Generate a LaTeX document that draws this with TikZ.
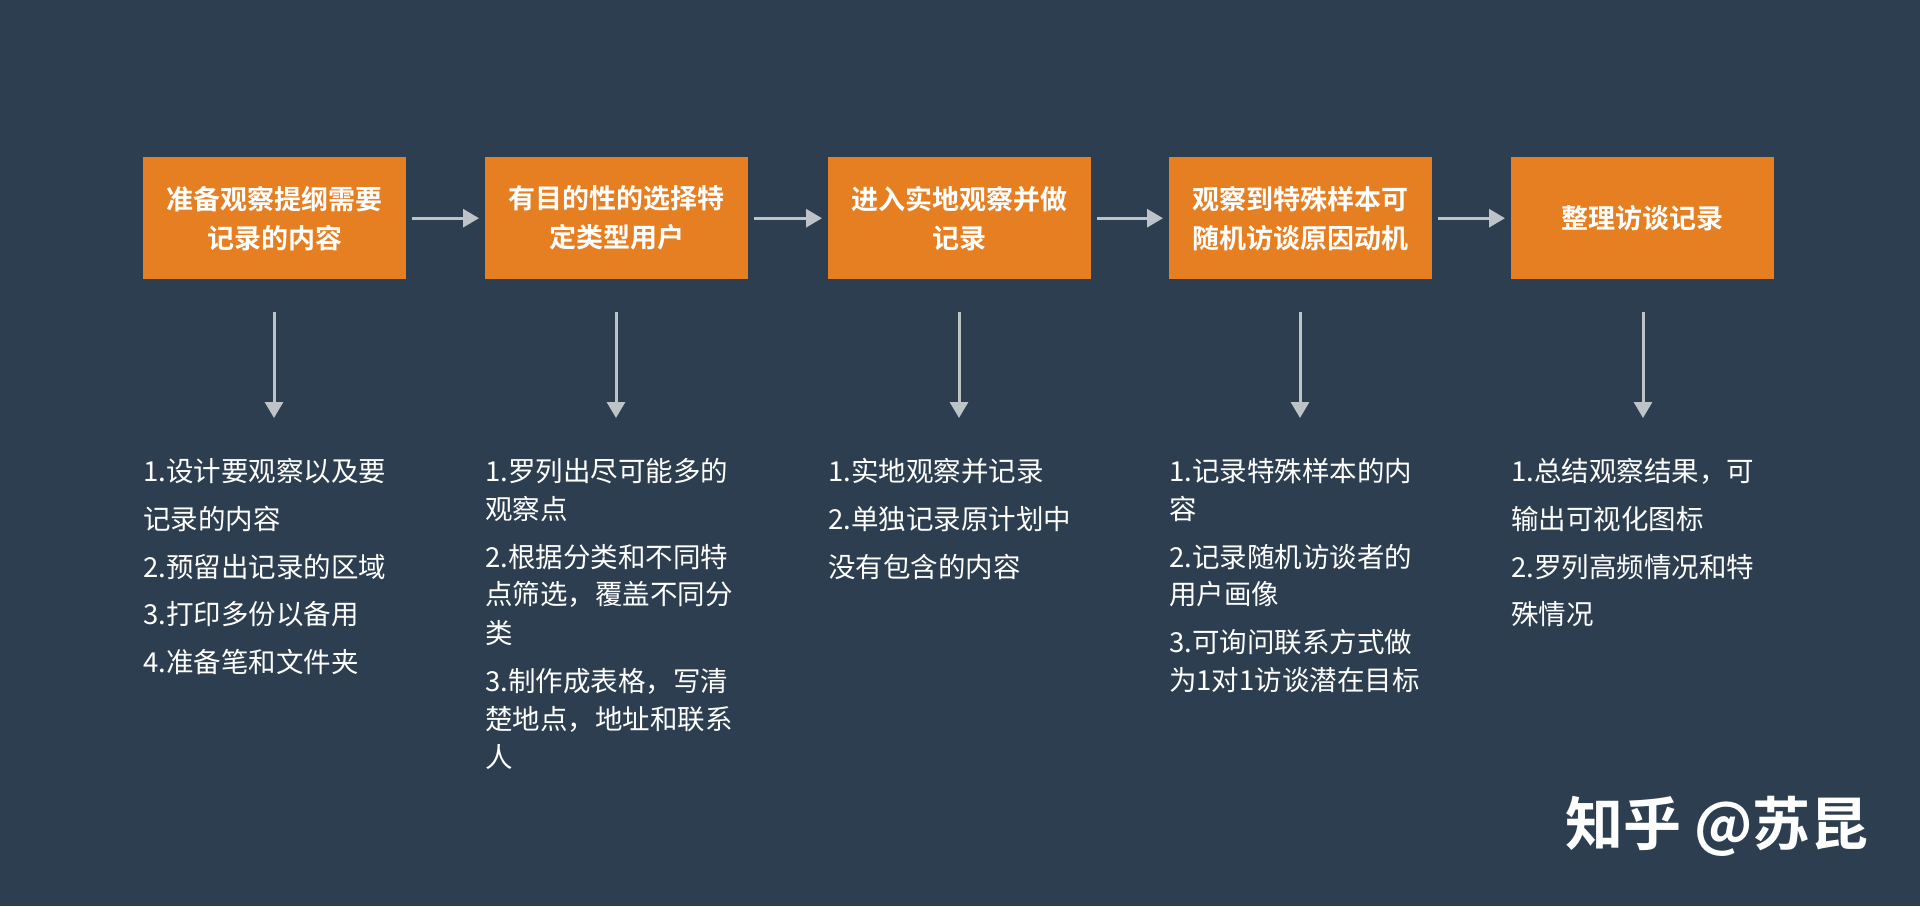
\documentclass[tikz,border=0pt]{standalone}
\usepackage{fontspec}
\setmainfont{Noto Sans CJK SC}
\newfontfamily\cjkb{Noto Sans CJK SC Bold}
\usetikzlibrary{arrows.meta}
\definecolor{bg}{HTML}{2D3E50}
\definecolor{org}{HTML}{E67E22}
\definecolor{arr}{HTML}{BDC3C7}
\tikzset{
 box/.style={fill=org,minimum width=263pt,minimum height=122pt,anchor=north west,text=white,align=center,font=\cjkb\fontsize{27}{39}\selectfont},
 list/.style={anchor=north west,text=white,align=left,font=\fontsize{27.5}{47.8}\selectfont,inner sep=0pt},
 conn/.style={draw=arr,line width=3pt,-{Triangle[length=16pt,width=18pt]}}
}
\begin{document}
\begin{tikzpicture}[x=1pt,y=-1pt]
\fill[bg] (0,0) rectangle (1920,906);
\useasboundingbox (0,0) rectangle (1920,906);
\node[box] (b1) at (143,157) {准备观察提纲需要\\记录的内容};
\node[box] (b2) at (485,157) {有目的性的选择特\\定类型用户};
\node[box] (b3) at (828,157) {进入实地观察并做\\记录};
\node[box] (b4) at (1169,157) {观察到特殊样本可\\随机访谈原因动机};
\node[box] (b5) at (1511,157) {整理访谈记录};
\foreach \a/\b in {b1/b2,b2/b3,b3/b4,b4/b5}{\draw[conn] ([xshift=6pt]\a.east) -- ([xshift=-6pt]\b.west);}
\foreach \i/\x in {1/274,2/616,3/959,4/1300,5/1643}{
 \coordinate (s\i) at (\x,312);
 \coordinate (e\i) at (\x,418);
 \draw[conn] (s\i) -- (e\i);}
\node[list] (l1) at (143,458) {1.设计要观察以及要\\记录的内容\\2.预留出记录的区域\\3.打印多份以备用\\4.准备笔和文件夹};
\node[list] (l2) at (485,458) {1.罗列出尽可能多的\\[-10pt]观察点\\2.根据分类和不同特\\[-10pt]点筛选，覆盖不同分\\[-9pt]类\\3.制作成表格，写清\\[-10pt]楚地点，地址和联系\\[-10pt]人};
\node[list] (l3) at (828,458) {1.实地观察并记录\\2.单独记录原计划中\\没有包含的内容};
\node[list] (l4) at (1169,458) {1.记录特殊样本的内\\[-10pt]容\\2.记录随机访谈者的\\[-10pt]用户画像\\3.可询问联系方式做\\[-10pt]为1对1访谈潜在目标};
\node[list] (l5) at (1511,458) {1.总结观察结果，可\\输出可视化图标\\2.罗列高频情况和特\\殊情况};
\node[text=white,font=\cjkb\fontsize{58}{66}\selectfont] (wm) at (1717,826) {知乎 @苏昆};
\end{tikzpicture}
\end{document}
